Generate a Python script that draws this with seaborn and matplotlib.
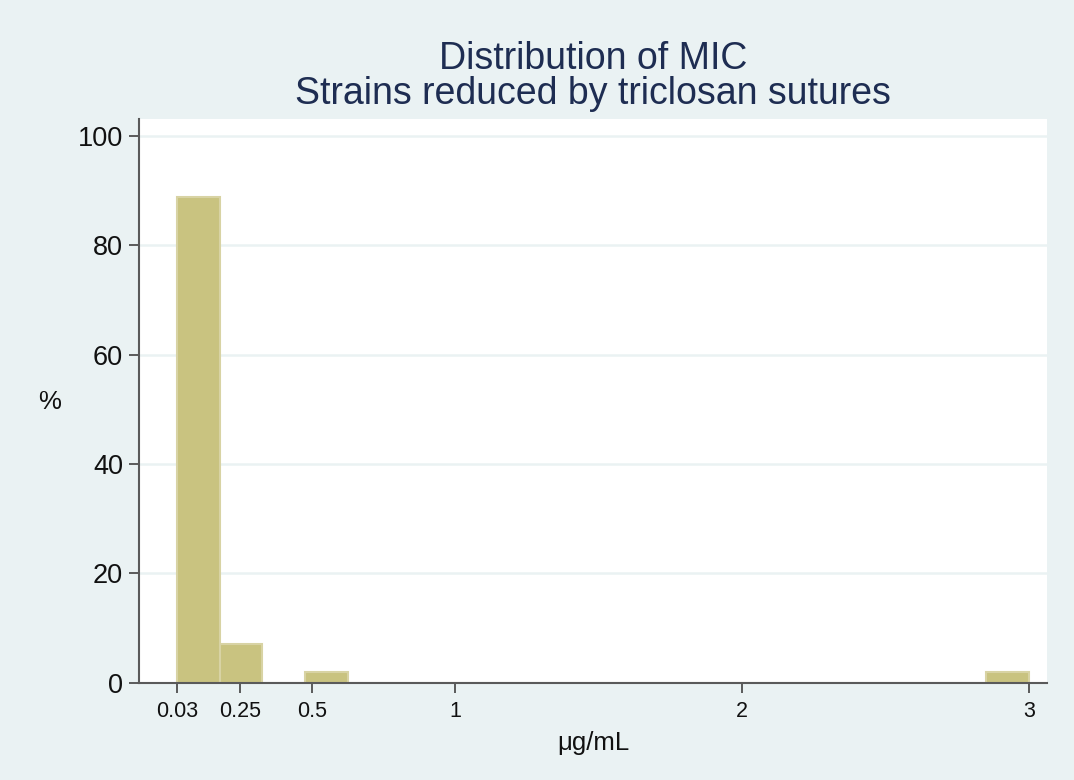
import numpy as np
import pandas as pd
import seaborn as sns
import matplotlib.pyplot as plt

# MIC values (ug/mL) and share of strains (%)
mic_values = [0.03, 0.25, 0.5, 3]
pct_strains = [88.8, 7.0, 2.0, 2.0]

x_ticks = [0.03, 0.25, 0.5, 1, 2, 3]
x_tick_labels = ["0.03", "0.25", "0.5", "1", "2", "3"]
y_ticks = [0, 20, 40, 60, 80, 100]

df = pd.DataFrame({"mic": mic_values, "pct": pct_strains})

sns.set_style("white")
plt.rcParams["font.family"] = ["Liberation Sans", "DejaVu Sans"]

bg = "#EAF2F3"
fig = plt.figure(figsize=(10.74, 7.8), dpi=100, facecolor=bg)
ax = fig.add_axes([0.1294, 0.1247, 0.8455, 0.7227])
ax.set_facecolor("white")

sns.histplot(data=df, x="mic", weights="pct", bins=20, binrange=(0.03, 3),
             color="#C9C380", edgecolor="#D8D3A4", linewidth=1.5, alpha=1,
             ax=ax, zorder=3)

ax.set_xlim(-0.103, 3.0626)
ax.set_ylim(0, 103.1)
ax.set_xticks(x_ticks)
ax.set_xticklabels(x_tick_labels, fontsize=15.5, color="#111111")
ax.set_yticks(y_ticks)
ax.set_yticklabels([str(v) for v in y_ticks], fontsize=19.5, color="#111111")

ax.grid(False)
for v in y_ticks[1:]:
    ax.axhline(v, color=bg, linewidth=1.8, zorder=1)

for s in ["top", "right"]:
    ax.spines[s].set_visible(False)
for s in ["left", "bottom"]:
    ax.spines[s].set_color("#5a5a5a")
    ax.spines[s].set_linewidth(1.5)
    ax.spines[s].set_zorder(4)

ax.tick_params(axis="both", direction="out", length=7.5, width=1.4,
               color="#5a5a5a", left=True, bottom=True)
ax.tick_params(axis="x", pad=6)
ax.tick_params(axis="y", pad=4)

ax.set_xlabel("\u03bcg/mL", fontsize=18.5, color="#111111", labelpad=6)
ax.set_ylabel("%", fontsize=18.5, color="#111111", rotation=0,
              va="center", ha="center")
ax.yaxis.set_label_coords(-0.098, 0.498)

ax.set_title("Distribution of MIC\nStrains reduced by triclosan sutures",
             fontsize=27, color="#1E2D52", pad=11, linespacing=0.95)

fig.savefig("out.png", dpi=100, facecolor=bg)
